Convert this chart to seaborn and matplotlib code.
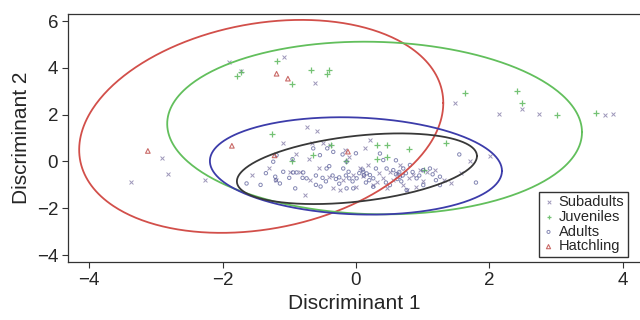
import numpy as np
import pandas as pd
import matplotlib
matplotlib.use("Agg")
import matplotlib.pyplot as plt
import seaborn as sns

# ---------------- data ----------------
sub_x = [-3.37, -2.91, -2.82, -2.26, -1.91, -1.72, -1.08, -0.61, 1.48, 2.14, 2.49, 2.74,
         3.74, 3.86, 2.01, 1.71, 1.57, 1.32, 1.42, -0.73, -0.59,
         -1.56, -1.10, -0.99, -0.84, -0.76, -0.69, -0.66, -0.49, -0.39, -0.34, -0.24, -0.16,
         -0.04, 0.06, 0.13, 0.21, 0.31, 0.41, 0.51, 0.61, 0.71, 0.86, 0.96, 1.06, 1.18, 0.76,
         -0.40, -0.20, 0.00, 0.26, 0.46, 0.66, -1.30, -0.90, -0.55, 0.10, 0.35, 0.55, 0.80,
         1.00, -1.20, -0.70, 0.90, 0.18, -0.10]
sub_y = [-0.86, 0.13, -0.52, -0.81, 4.25, 3.86, 4.48, 3.35, 2.52, 2.04, 2.26, 2.04,
         1.97, 2.01, 0.23, 0.04, -0.49, -0.81, -0.93, 1.49, 1.32,
         -0.58, 0.77, -0.47, -0.47, -1.44, -0.80, 0.77, 0.77, 0.70, -1.15, -1.22, 0.49,
         -0.58, -0.30, 0.56, 0.91, -0.87, -0.72, -0.44, -0.51, -1.01, -0.58, -0.37, -0.44, -0.37, -1.22,
         -0.65, -0.80, -1.08, -1.01, -1.15, -0.15, -0.30, 0.30, -0.30, -0.60, -0.50, -0.80, -0.70,
         -0.85, -0.80, 0.10, -1.10, -0.15, 0.20]

juv_x = [-1.19, -1.78, -1.73, -0.96, -0.68, -0.44, -0.40, 1.63, 2.41, 2.49, 3.02, 3.60,
         -1.26, -0.65, -0.15, 0.32, 0.47, 0.79, 1.35, 1.02, 0.32, 0.46, -0.37, -0.96]
juv_y = [4.29, 3.64, 3.81, 3.32, 3.90, 3.75, 3.90, 2.91, 3.01, 2.51, 1.97, 2.09,
         1.17, 0.28, 0.00, 0.71, 0.71, 0.55, 0.77, -0.35, 0.09, 0.19, 0.71, 0.04]

adu_x = [-1.64, -1.19, -1.24, -1.21, -1.20, -1.14, -1.09, -0.94, -0.89, -0.79, -0.91, -0.74,
         -0.64, -0.54, -0.43, -0.34, -0.44, -0.60, -0.50, -0.45, -0.35, -0.30, -0.25, -0.15,
         -0.10, -0.05, -0.60, -0.53, -0.19, -0.14, -0.11, 0.01, 0.11, 0.16, 0.21, 0.26, 0.36,
         0.41, 0.46, 0.56, 0.66, 0.71, 0.81, 0.91, 1.01, 1.11, 1.26, -0.14, -0.04, 0.26, 0.51,
         0.76, 1.01, 1.26, 0.60, 0.65, 0.70, 0.75, 0.62, 0.68, 0.10, 0.12, 0.05, 0.20, 0.15,
         -0.25, -0.40, -0.80, -1.00, -1.35, -0.95, 0.30, 0.45, 0.85, 0.95, 1.15, 1.20, -1.43,
         1.55, 1.80, -0.20, 0.00, 0.60]
adu_y = [-0.94, 0.27, -0.01, -0.65, -0.80, -0.94, -0.44, -0.47, -0.47, -0.47, -1.15, -0.72,
         0.56, 0.27, 0.56, 0.41, -0.30, -0.60, -0.70, -0.85, -0.60, -0.75, -0.68, -0.60,
         -0.72, -0.85, -1.00, -1.07, -0.30, -0.01, -0.44, -0.72, -0.44, -0.51, -0.58, -0.72, 0.34,
         0.06, -0.30, -0.37, -0.65, -0.30, -0.15, -0.72, -0.37, -0.30, -0.65, -1.15, -1.15, -1.08, -1.01,
         -1.22, -1.01, -1.01, -0.55, -0.45, -0.60, -0.50, -0.75, -0.85, -0.35, -0.60, -0.50, -0.80, -0.90,
         -0.95, -0.20, -0.70, -0.70, -0.50, 0.10, -0.30, -0.90, -0.45, -0.60, -0.55, -0.80, -1.00,
         0.30, -0.90, 0.30, 0.35, 0.05]

hat_x = [-3.12, -1.86, -1.19, -1.02, -1.22, -0.12]
hat_y = [0.45, 0.67, 3.75, 3.54, 0.26, 0.42]

# ellipse parameters: centre, half-width, vertical half-axis, shear term
ell_names = ["Hatchling", "Juveniles", "Adults", "Subadults"]
ell_cx = [-1.42, 0.28, 0.00, 0.015]
ell_cy = [1.50, 1.43, -0.19, -0.31]
ell_a = [2.73, 3.11, 2.19, 1.80]
ell_b = [4.44, 3.685, 2.07, 1.41]
ell_c = [1.00, -0.18, -0.21, 0.54]
ell_colors = ["#d24f4a", "#62bf5c", "#3c3caa", "#383838"]

# ---------------- figure ----------------
sns.set_style("white")
plt.rcParams["font.family"] = ["Liberation Sans", "DejaVu Sans"]

fig = plt.figure(figsize=(6.4, 3.2), dpi=100)
ax = fig.add_axes([0.106, 0.181, 0.894, 0.775])

t = np.linspace(0, 2 * np.pi, 400)
for cx, cy, a, b, c, col in zip(ell_cx, ell_cy, ell_a, ell_b, ell_c, ell_colors):
    ex = cx + a * np.cos(t)
    ey = cy + b * np.sin(t) + c * np.cos(t)
    ax.plot(ex, ey, color=col, lw=1.3, zorder=3)

sub_df = pd.DataFrame({"x": sub_x, "y": sub_y})
juv_df = pd.DataFrame({"x": juv_x, "y": juv_y})
adu_df = pd.DataFrame({"x": adu_x, "y": adu_y})
hat_df = pd.DataFrame({"x": hat_x, "y": hat_y})

sns.scatterplot(data=sub_df, x="x", y="y", marker="x", s=8, color="#7d75a3",
                linewidth=0.7, alpha=0.75, ax=ax, label="Subadults", zorder=2)
sns.scatterplot(data=juv_df, x="x", y="y", marker="+", s=13, color="#5cb85c",
                linewidth=0.9, alpha=0.85, ax=ax, label="Juveniles", zorder=2)
sns.scatterplot(data=adu_df, x="x", y="y", marker="o", s=6, facecolor="none",
                edgecolor="#5b5f9a", linewidth=0.7, alpha=0.75, ax=ax, label="Adults", zorder=2)
sns.scatterplot(data=hat_df, x="x", y="y", marker="^", s=11, facecolor="none",
                edgecolor="#c0504d", linewidth=0.8, alpha=0.85, ax=ax, label="Hatchling", zorder=2)

ax.set_xlim(-4.32, 4.26)
ax.set_ylim(-4.3, 6.3)
ax.set_xticks([-4, -2, 0, 2, 4])
ax.set_yticks([-4, -2, 0, 2, 4, 6])
ax.set_xticklabels(["\u22124", "\u22122", "0", "2", "4"])
ax.set_yticklabels(["\u22124", "\u22122", "0", "2", "4", "6"])
ax.tick_params(axis="both", which="major", direction="out", length=4, width=0.8,
               color="#333333", labelsize=13.5, pad=3, left=True, bottom=True)
ax.set_xlabel("Discriminant 1", fontsize=15, labelpad=4)
ax.set_ylabel("Discriminant 2", fontsize=15, labelpad=4)

for side in ["left", "bottom", "top"]:
    ax.spines[side].set_color("#333333")
    ax.spines[side].set_linewidth(0.9)
ax.spines["right"].set_visible(False)

leg = ax.legend(loc="lower right", bbox_to_anchor=(0.979, 0.02), fontsize=10.5,
                frameon=True, fancybox=False, edgecolor="black", borderpad=0.25,
                labelspacing=0.05, handlelength=0.8, handletextpad=0.3,
                borderaxespad=0.0, markerscale=0.9)
leg.get_frame().set_linewidth(1.0)

fig.savefig("out.png", dpi=100)
